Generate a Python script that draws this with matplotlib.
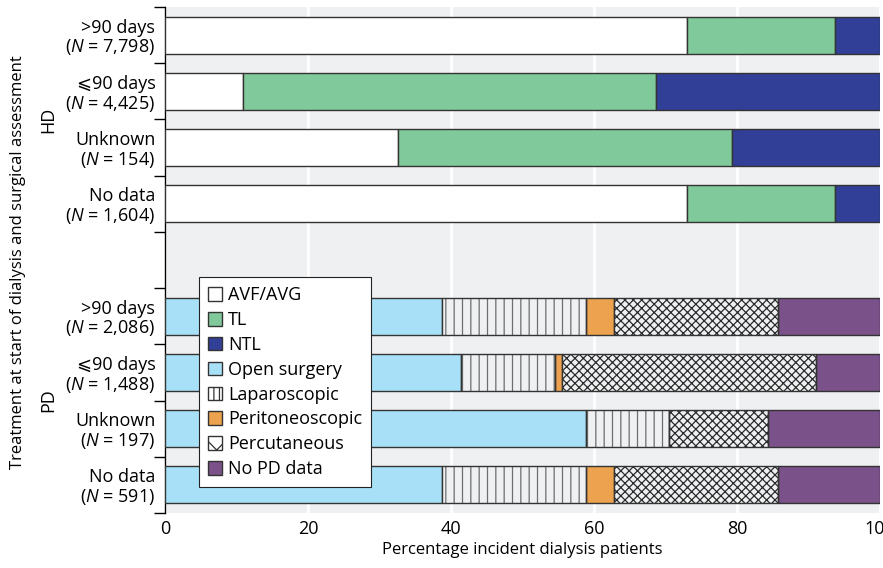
import matplotlib
matplotlib.use("Agg")
import matplotlib.pyplot as plt
from matplotlib.patches import Patch
import numpy as np

################################################################################
# Data
################################################################################
HD_LABELS   = [">90 days\n($N$ = 7,798)", "\u2a7d90 days\n($N$ = 4,425)",
               "Unknown\n($N$ = 154)", "No data\n($N$ = 1,604)"]
HD_AVF      = [73.0, 10.9, 32.6, 73.0]
HD_TL       = [20.7, 57.8, 46.7, 20.7]
HD_NTL      = [6.3, 31.3, 20.7, 6.3]

PD_LABELS   = [">90 days\n($N$ = 2,086)", "\u2a7d90 days\n($N$ = 1,488)",
               "Unknown\n($N$ = 197)", "No data\n($N$ = 591)"]
PD_OPEN     = [38.8, 41.4, 58.9, 38.8]
PD_LAP      = [20.1, 13.1, 11.6, 20.1]
PD_PERI     = [3.9, 1.0, 0.0, 3.9]
PD_PERC     = [22.9, 35.6, 13.8, 22.9]
PD_NODATA   = [14.3, 8.9, 15.7, 14.3]

X_TICKS     = [0, 20, 40, 60, 80, 100]

################################################################################
# Style
################################################################################
plt.rcParams["font.family"]         = ["Open Sans", "DejaVu Sans"]
plt.rcParams["font.size"]           = 12
plt.rcParams["mathtext.fontset"]    = "custom"
plt.rcParams["mathtext.it"]         = "Open Sans:italic"
plt.rcParams["mathtext.rm"]         = "Open Sans"
plt.rcParams["hatch.linewidth"]     = 0.9

BG          = "#eff0f2"
EDGE        = "#333333"
C_AVF       = "#ffffff"
C_TL        = "#80c99b"
C_NTL       = "#323f96"
C_OPEN      = "#a8e0f8"
C_PERI      = "#eda24f"
C_NODATA    = "#7a5289"
BAR_H       = 0.66
FS          = 12
FS_LABEL    = 13

################################################################################
# Plot
################################################################################
fig = plt.figure(figsize=(8.83, 5.68), dpi=100)
ax  = fig.add_axes([165 / 883, 1 - 513 / 568, 715 / 883, 506 / 568])
ax.set_facecolor(BG)

hd_y = np.arange(4)
pd_y = np.arange(5, 9)


def stack(ax, y, series):
    left = np.zeros(len(y))
    for vals, face, hatch, hcol in series:
        vals = np.asarray(vals)
        if hatch is None:
            ax.barh(y, vals, left=left, height=BAR_H, color=face,
                    edgecolor=EDGE, linewidth=1, zorder=3)
        else:
            ax.barh(y, vals, left=left, height=BAR_H, color=face,
                    edgecolor=hcol, linewidth=0, hatch=hatch, zorder=3)
            ax.barh(y, vals, left=left, height=BAR_H, fill=False,
                    edgecolor=EDGE, linewidth=1, zorder=4)
        left = left + vals


stack(ax, hd_y, [
    (HD_AVF, C_AVF, None, None),
    (HD_TL, C_TL, None, None),
    (HD_NTL, C_NTL, None, None)])

stack(ax, pd_y, [
    (PD_OPEN, C_OPEN, None, None),
    (PD_LAP, BG, "||", "#6e6e6e"),
    (PD_PERI, C_PERI, None, None),
    (PD_PERC, BG, "xxxx", "#2a2a2a"),
    (PD_NODATA, C_NODATA, None, None)])

ax.set_xlim(0, 100)
ax.set_ylim(8.5, -0.5)
ax.set_xticks(X_TICKS)
ax.tick_params(axis="x", length=0, pad=5, labelsize=FS_LABEL)
ax.grid(axis="x", color="white", linewidth=2, zorder=0)
ax.set_axisbelow(True)

ax.set_yticks(np.concatenate([hd_y, pd_y]), HD_LABELS + PD_LABELS,
              linespacing=1.05)
ax.set_yticks(np.arange(-0.5, 9, 1), minor=True)
ax.tick_params(axis="y", which="major", length=0, pad=7, labelsize=FS_LABEL)
ax.tick_params(axis="y", which="minor", length=8, width=1, color="black")

for side in ["top", "right", "bottom"]:
    ax.spines[side].set_visible(False)
ax.spines["left"].set_linewidth(1)

ax.set_xlabel("Percentage incident dialysis patients", fontsize=FS,
              labelpad=3)
fig.text(18 / 883, 1 - 262 / 568,
         "Treatment at start of dialysis and surgical assessment",
         rotation=90, ha="center", va="center", fontsize=FS)
fig.text(48 / 883, 1 - 120 / 568, "HD", rotation=90, ha="center",
         va="center", fontsize=FS_LABEL)
fig.text(48 / 883, 1 - 400 / 568, "PD", rotation=90, ha="center",
         va="center", fontsize=FS_LABEL)

handles = [
    Patch(facecolor=C_AVF, edgecolor=EDGE, label="AVF/AVG"),
    Patch(facecolor=C_TL, edgecolor=EDGE, label="TL"),
    Patch(facecolor=C_NTL, edgecolor=EDGE, label="NTL"),
    Patch(facecolor=C_OPEN, edgecolor=EDGE, label="Open surgery"),
    Patch(facecolor="white", edgecolor=EDGE, hatch="|||", label="Laparoscopic"),
    Patch(facecolor=C_PERI, edgecolor=EDGE, label="Peritoneoscopic"),
    Patch(facecolor="white", edgecolor=EDGE, hatch="x", label="Percutaneous"),
    Patch(facecolor=C_NODATA, edgecolor=EDGE, label="No PD data")]

leg = ax.legend(handles=handles, loc="lower left",
                bbox_to_anchor=(0.047, 0.051), fontsize=FS_LABEL,
                handlelength=0.78, handleheight=0.78, handletextpad=0.35,
                labelspacing=0.38, borderpad=0.5, borderaxespad=0,
                fancybox=False, framealpha=1, edgecolor="#222222")
leg.get_frame().set_linewidth(0.8)
leg.set_zorder(10)

fig.savefig("out.png", dpi=100)
